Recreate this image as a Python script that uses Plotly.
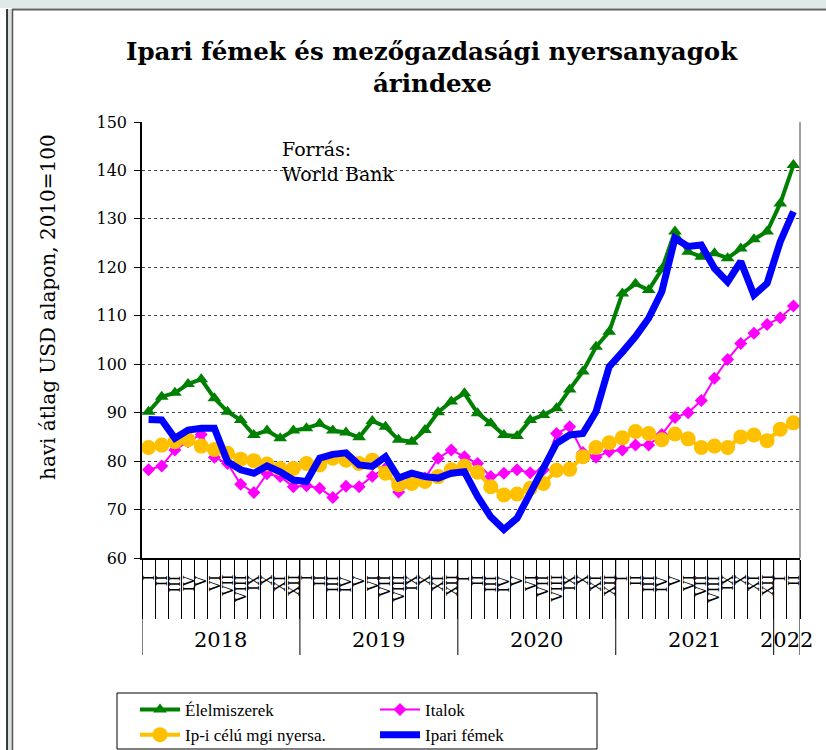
import plotly.graph_objects as go

# ---- data (monthly, Jan 2018 - Feb 2022) ----
years = ["2018", "2019", "2020", "2021", "2022"]
month_roman = ["I", "II", "III", "IV", "V", "VI", "VII", "VIII", "IX", "X", "XI", "XII"]

elelmiszerek = [90.2, 93.3, 94.1, 95.9, 96.9, 93.0, 90.2, 88.5, 85.4, 86.3, 84.7, 86.3,
                86.8, 87.7, 86.3, 85.9, 84.9, 88.3, 87.1, 84.4, 84.0, 86.4, 90.1, 92.3,
                94.0, 89.9, 87.8, 85.4, 85.2, 88.5, 89.5, 90.9, 94.8, 98.5, 103.6, 106.7,
                114.6, 116.6, 115.3, 119.6, 127.4, 123.2, 122.2, 122.9, 121.9, 123.9, 125.8, 127.4,
                133.2, 141.1]
italok = [78.2, 79.0, 82.3, 84.0, 85.5, 80.8, 79.5, 75.2, 73.5, 77.4, 76.8, 74.7,
          74.9, 74.4, 72.5, 74.8, 74.7, 76.9, 78.5, 73.6, 75.5, 76.5, 80.6, 82.3,
          80.9, 79.5, 76.8, 77.5, 78.2, 77.6, 78.2, 85.7, 87.1, 81.8, 80.8, 82.0,
          82.3, 83.3, 83.3, 85.5, 89.0, 90.0, 92.5, 97.1, 101.0, 104.3, 106.4, 108.2,
          109.6, 112.0]
ip_nyersa = [82.8, 83.3, 84.0, 84.4, 83.1, 82.4, 81.6, 80.4, 80.1, 79.4, 78.5, 78.5,
             79.5, 79.2, 80.6, 80.2, 79.5, 80.2, 77.5, 75.1, 75.4, 75.8, 76.8, 78.2,
             79.0, 77.7, 74.7, 73.0, 73.2, 74.4, 75.4, 78.1, 78.3, 80.9, 82.8, 83.8,
             84.8, 86.1, 85.7, 84.4, 85.6, 84.6, 82.8, 83.1, 82.8, 85.0, 85.4, 84.2,
             86.6, 87.9]
ipari_femek = [88.6, 88.5, 84.7, 86.4, 86.8, 86.8, 79.9, 78.2, 77.5, 79.0, 77.8, 76.1,
               75.8, 80.6, 81.4, 81.7, 79.2, 78.9, 80.9, 76.5, 77.5, 76.8, 76.5, 77.5,
               77.8, 72.7, 68.5, 65.9, 68.2, 73.4, 78.9, 83.7, 85.4, 85.7, 90.2, 99.5,
               102.5, 105.7, 109.5, 115.0, 126.0, 124.3, 124.6, 119.8, 117.0, 121.2, 114.3, 116.7,
               125.3, 131.5]

n = len(elelmiszerek)
xs = list(range(n))
month_labels = [month_roman[i % 12] for i in xs]

SERIF = "DejaVu Serif"
LEGEND_FONT = "Liberation Serif, Times New Roman, Times, serif"
fig = go.Figure()

fig.add_trace(go.Scatter(x=xs, y=elelmiszerek, name="Élelmiszerek", mode="lines+markers",
                         line=dict(color="#008000", width=4), legend="legend", legendgroup="a",
                         marker=dict(symbol="triangle-up", size=12, color="#008000")))
fig.add_trace(go.Scatter(x=xs, y=italok, name="Italok", mode="lines+markers",
                         line=dict(color="#FF00FF", width=2), legend="legend2", legendgroup="b",
                         marker=dict(symbol="diamond", size=10, color="#FF00FF")))
fig.add_trace(go.Scatter(x=xs, y=ip_nyersa, name="Ip-i célú mgi nyersa.", mode="lines+markers",
                         line=dict(color="#FFC000", width=4), legend="legend", legendgroup="c",
                         marker=dict(symbol="circle", size=15, color="#FFC000")))
fig.add_trace(go.Scatter(x=xs, y=ipari_femek, name="Ipari fémek", mode="lines",
                         line=dict(color="#0000FF", width=7), legend="legend2", legendgroup="d"))

# plot area: px 142..800, py 122..558
L, R, T, B = 142, 800, 122, 558
W, H = 826, 750
def px(xp):
    return (xp - L) / (R - L)
def py(yp):
    return (B - yp) / (B - T)

annotations = []
# title
annotations.append(dict(text="<b>Ipari fémek és mezőgazdasági nyersanyagok</b>", xref="paper", yref="paper",
                        x=px(432), y=py(51), xanchor="center", yanchor="middle", showarrow=False,
                        font=dict(family=SERIF, size=24.5, color="black")))
annotations.append(dict(text="<b>árindexe</b>", xref="paper", yref="paper",
                        x=px(432), y=py(83), xanchor="center", yanchor="middle", showarrow=False,
                        font=dict(family=SERIF, size=24.5, color="black")))
# y title
annotations.append(dict(text="havi átlag USD alapon, 2010=100", xref="paper", yref="paper",
                        x=px(48), y=py(307), xanchor="center", yanchor="middle", textangle=-90,
                        showarrow=False, font=dict(family=SERIF, size=20, color="black")))
# source
annotations.append(dict(text="Forrás:<br>World Bank", xref="paper", yref="paper",
                        x=px(280), y=py(136), xanchor="left", yanchor="top", align="left",
                        showarrow=False, font=dict(family=SERIF, size=19, color="black")))
# month labels
for i, lab in zip(xs, month_labels):
    annotations.append(dict(text=lab, xref="x", yref="paper", x=i, y=py(573),
                            xanchor="center", yanchor="top", textangle=-90, showarrow=False,
                            font=dict(family=SERIF, size=14, color="black")))
# year labels
for k, yr in enumerate(years):
    start = k * 12 - 0.5
    end = min(start + 12, n - 0.5)
    annotations.append(dict(text=yr, xref="x", yref="paper", x=(start + end) / 2, y=py(640),
                            xanchor="center", yanchor="middle", showarrow=False,
                            font=dict(family=SERIF, size=21, color="black")))

shapes = []
# year separators
bounds = [k * 12 - 0.5 for k in range(len(years))] + [n - 0.5]
for bnd in bounds:
    shapes.append(dict(type="line", xref="x", yref="paper", x0=bnd, x1=bnd, y0=0, y1=py(655),
                       line=dict(color="black", width=1)))
# right border of plot area
shapes.append(dict(type="line", xref="paper", yref="paper", x0=1, x1=1, y0=0, y1=1,
                   line=dict(color="#808080", width=1.5)))
# legend box
shapes.append(dict(type="rect", xref="paper", yref="paper", x0=px(117), x1=px(597), y0=py(693), y1=py(749),
                   line=dict(color="black", width=1), fillcolor="rgba(0,0,0,0)"))
# window frame decoration
shapes.append(dict(type="rect", xref="paper", yref="paper", x0=px(0), x1=px(W), y0=py(0), y1=py(8),
                   fillcolor="#dfe9ea", line=dict(width=0), layer="below"))
shapes.append(dict(type="line", xref="paper", yref="paper", x0=px(12), x1=px(W), y0=py(9.5), y1=py(9.5),
                   line=dict(color="#606060", width=2)))
shapes.append(dict(type="rect", xref="paper", yref="paper", x0=px(7), x1=px(12), y0=py(9), y1=py(H),
                   fillcolor="#d9dede", line=dict(width=0), layer="below"))
shapes.append(dict(type="line", xref="paper", yref="paper", x0=px(7), x1=px(7), y0=py(9), y1=py(H),
                   line=dict(color="black", width=1.5)))
shapes.append(dict(type="line", xref="paper", yref="paper", x0=px(12.5), x1=px(12.5), y0=py(9), y1=py(H),
                   line=dict(color="#555555", width=1.5)))

legend_common = dict(orientation="v", xanchor="left", yanchor="top",
                     borderwidth=0, bgcolor="rgba(0,0,0,0)",
                     font=dict(family=LEGEND_FONT, size=17, color="black"),
                     tracegroupgap=4, traceorder="normal", itemwidth=40)

fig.update_layout(
    width=W, height=H,
    margin=dict(l=L, r=W - R, t=T, b=H - B, pad=0, autoexpand=False),
    paper_bgcolor="white", plot_bgcolor="white",
    showlegend=True,
    legend=dict(x=px(135), y=py(692), **legend_common),
    legend2=dict(x=px(375), y=py(692), **legend_common),
    annotations=annotations,
    shapes=shapes,
)

fig.update_xaxes(range=[-0.5, n - 0.5], showgrid=False, zeroline=False,
                 showline=True, linecolor="black", linewidth=1.5,
                 tickmode="array", tickvals=[b - 0.5 for b in range(n + 1)],
                 ticks="outside", ticklen=59, tickcolor="black", tickwidth=1,
                 showticklabels=False)
fig.update_yaxes(range=[60, 150], dtick=10, tick0=60, zeroline=False,
                 showline=True, linecolor="black", linewidth=1.5,
                 ticks="outside", ticklen=6, tickcolor="black", tickwidth=1,
                 showgrid=True, gridcolor="#444444", gridwidth=1, griddash="dot",
                 tickfont=dict(family=SERIF, size=16, color="black"), ticklabelstandoff=4)

fig.write_html("out.html", config={"displayModeBar": False},
               post_script="document.body.style.margin='0px';")
